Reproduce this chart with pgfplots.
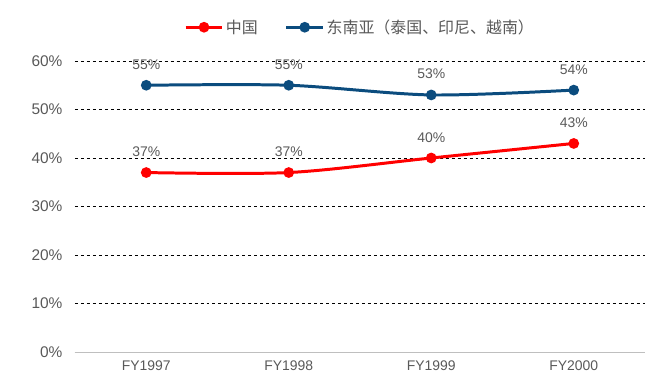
\documentclass[border=0pt]{standalone}
\usepackage{pgfplots}
\pgfplotsset{compat=1.18}
\usepackage{fontspec}
\setmainfont{Liberation Sans}
\newfontfamily\cjk{Noto Sans CJK SC}
\definecolor{txt}{HTML}{595959}
\definecolor{cnred}{HTML}{FF0000}
\definecolor{seablue}{HTML}{0B4C7E}
\begin{document}
\begin{tikzpicture}
\begin{axis}[
  scale only axis, width=570bp, height=291bp,
  xmin=-0.5, xmax=3.5, ymin=0, ymax=60,
  xtick={0,1,2,3}, xticklabels={FY1997,FY1998,FY1999,FY2000},
  ytick={0,10,20,30,40,50,60},
  yticklabel={\pgfmathprintnumber{\tick}\%},
  /pgf/number format/assume math mode=true,
  xticklabel style={font=\fontsize{14}{16}\selectfont, text=txt, yshift=-5bp},
  yticklabel style={font=\fontsize{15.5}{17}\selectfont, text=txt, xshift=-9bp},
  axis x line*=bottom, axis y line*=left,
  x axis line style={draw=gray!50, line width=0.8pt},
  y axis line style={draw=none},
  major tick length=0pt,
  ymajorgrids, grid style={dashed, black, line width=0.5pt},
  clip=false,
  nodes near coords={\pgfmathprintnumber{\pgfplotspointmeta}\%},
  nodes near coords style={font=\fontsize{14}{16}\selectfont, text=txt, anchor=south, yshift=11bp},
  legend style={at={(0.5,1.0)}, anchor=south, yshift=22bp, draw=none, font=\cjk\fontsize{16}{18}\selectfont, text=txt, legend columns=2, /tikz/every even column/.append style={column sep=25bp}},
  legend image code/.code={\draw[#1, line width=3pt] (0cm,0cm) -- (1.3cm,0cm); \fill[#1] (0.65cm,0cm) circle (3.8pt);},
]
\addplot[cnred, line width=3pt, smooth, mark=*, mark size=3.8pt] coordinates {(0,37) (1,37) (2,40) (3,43)};
\addlegendentry{中国}
\addplot[seablue, line width=3pt, smooth, mark=*, mark size=3.8pt] coordinates {(0,55) (1,55) (2,53) (3,54)};
\addlegendentry{东南亚（泰国、印尼、越南）}
\end{axis}
\useasboundingbox ([shift={(-75bp,-40bp)}]current axis.south west) rectangle ([shift={(20bp,61bp)}]current axis.north east);
\end{tikzpicture}
\end{document}
